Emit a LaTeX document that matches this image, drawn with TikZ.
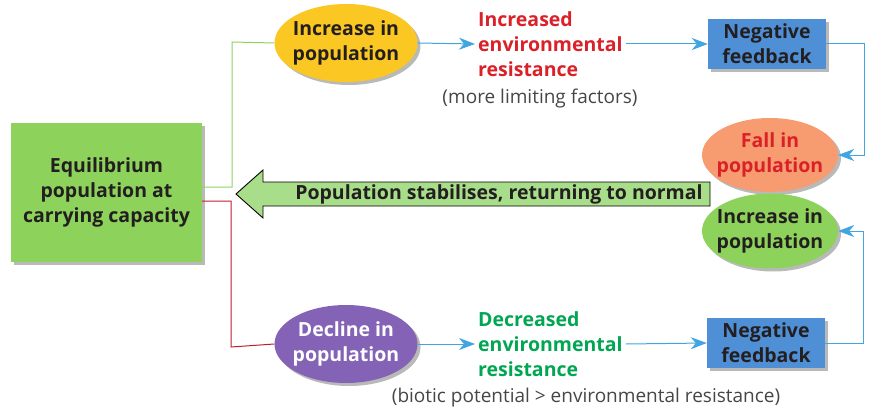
\documentclass[tikz,border=0pt]{standalone}
\usepackage{fontspec}
\setmainfont{Open Sans}
\usetikzlibrary{positioning,shapes.geometric,arrows.meta,shadows}
\definecolor{eqgreen}{RGB}{141,211,91}
\definecolor{popyellow}{RGB}{250,199,35}
\definecolor{declpurple}{RGB}{132,98,181}
\definecolor{fbblue}{RGB}{79,143,214}
\definecolor{fallorange}{RGB}{247,155,112}
\definecolor{arrgreen}{RGB}{168,222,138}
\definecolor{lineblue}{RGB}{65,165,225}
\definecolor{incred}{RGB}{218,33,40}
\definecolor{decgreen}{RGB}{0,166,81}
\definecolor{linered}{RGB}{190,30,45}
\definecolor{txtdark}{RGB}{35,31,32}
\definecolor{notegray}{RGB}{70,70,70}
\definecolor{shade}{RGB}{185,185,185}

\tikzset{
  bigtext/.style={font=\fontsize{19.5}{25}\selectfont\bfseries, text=txtdark, align=center},
  shadowed/.style={drop shadow={shadow xshift=3pt, shadow yshift=-3pt, fill=shade, opacity=1}},
  popoval/.style={ellipse, bigtext, shadowed, inner sep=-12pt, minimum width=143pt, minimum height=78pt},
  fbbox/.style={rectangle, bigtext, shadowed, fill=fbblue, minimum width=118pt, minimum height=50pt, inner sep=0pt},
  resist/.style={font=\fontsize{19.5}{25}\selectfont\bfseries, align=left, inner sep=3pt},
  note/.style={font=\fontsize{19}{25}\selectfont, text=notegray},
  flow/.style={lineblue, line width=1pt, -{Stealth[length=16pt,width=12pt,inset=5pt]}},
}

\begin{document}
\begin{tikzpicture}[x=1pt, y=-1pt]
    \useasboundingbox (0,0) rectangle (877,417);

    % centre box
    \node[bigtext, shadowed, fill=eqgreen, minimum width=191pt, minimum height=139pt, inner sep=0pt] (eq) at (106.5,192.5) {Equilibrium\\population at\\carrying capacity};

    % upper branch
    \node[popoval, fill=popyellow] (incr) at (346,43) {Increase in\\population};
    \node[resist, text=incred, anchor=west] (incres) at (475,44) {Increased\\environmental\\resistance};
    \node[note] (morelim) at (540,99) {(more limiting factors)};
    \node[fbbox] (nfup) at (767,44) {Negative\\feedback};
    \node[popoval, fill=fallorange, text=incred, minimum width=136pt, minimum height=74pt] (fall) at (770,155) {Fall in\\population};

    % lower branch
    \node[popoval, fill=declpurple, text=white] (decl) at (346,344) {Decline in\\population};
    \node[resist, text=decgreen, anchor=west] (decres) at (475,344) {Decreased\\environmental\\resistance};
    \node[note] (biotic) at (586,398) {(biotic potential > environmental resistance)};
    \node[fbbox] (nfdown) at (766,343) {Negative\\feedback};
    \node[popoval, fill=eqgreen, minimum width=136pt, minimum height=75pt] (rise) at (770,231) {Increase in\\population};

    % big return arrow
    \draw[fill=arrgreen, line width=0.9pt] (236,194) -- (263,170) -- (263,182) -- (710,182) -- (710,206) -- (263,206) -- (263,218) -- cycle;
    \node[bigtext] (stab) at (499,194) {Population stabilises, returning to normal};

    % connectors
    \draw[eqgreen, line width=1pt] ([yshift=5.5pt]eq.east) -| (232,42) -- (incr.west);
    \draw[linered, line width=1pt] ([yshift=-8.5pt]eq.east) -| (231,347) -- (decl.west);
    \draw[flow] (incr.east) -- (incres.west);
    \draw[flow] (incres.east) -- (nfup.west);
    \draw[flow] (nfup.east) -- ++(38,0) |- (fall.east);
    \draw[flow] (decl.east) -- (decres.west);
    \draw[flow] (decres.east) -- (nfdown.west);
    \draw[flow] (nfdown.east) -- ++(38,0) |- (rise.east);
\end{tikzpicture}
\end{document}
